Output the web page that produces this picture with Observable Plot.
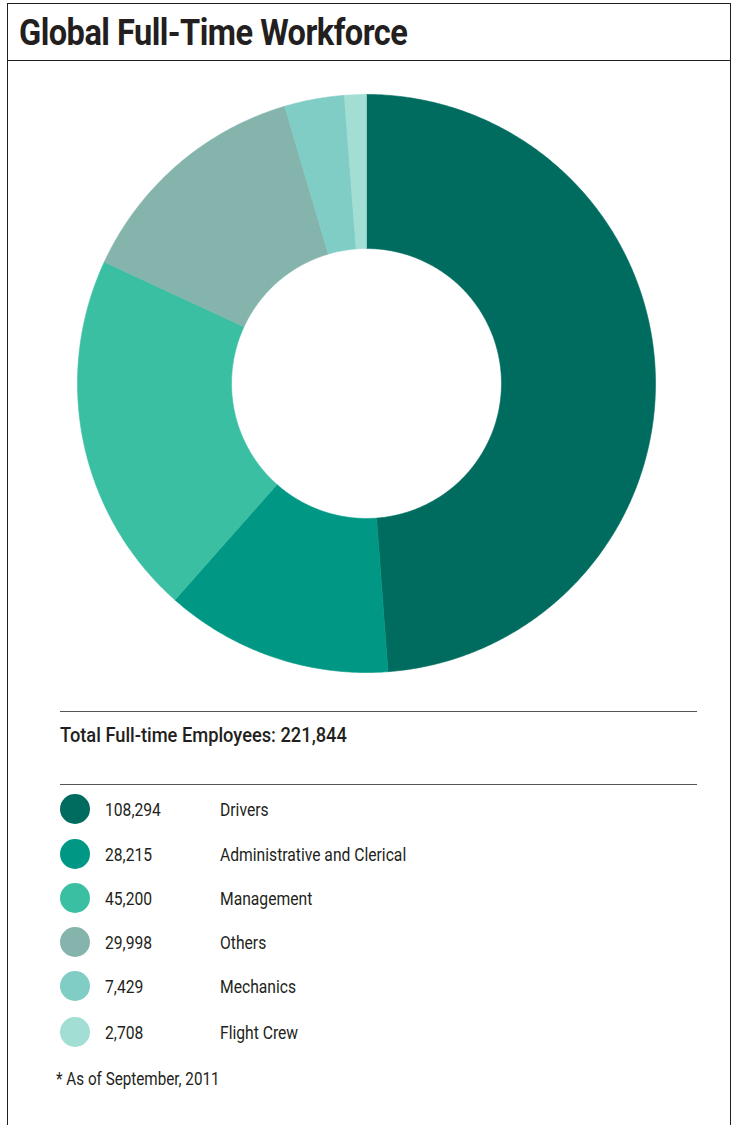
<!DOCTYPE html>
<html>
<head>
<meta charset="utf-8">
<script src="https://cdn.jsdelivr.net/npm/d3@7"></script>
<script src="https://cdn.jsdelivr.net/npm/@observablehq/plot@0.6"></script>
<style>
  html, body { margin: 0; padding: 0; background: #fff; }
  body { width: 733px; height: 1125px; position: relative; overflow: hidden;
         font-family: "Roboto", "Liberation Sans", sans-serif; color: #231f20; }
  .frame { position: absolute; left: 7px; top: 3px; width: 724px; height: 1130px;
           border: 1.5px solid #231f20; border-bottom: none; box-sizing: border-box; }
  .titlebar { position: absolute; left: 7px; top: 3px; width: 724px; height: 58px;
              border-bottom: 1.5px solid #231f20; box-sizing: border-box; }
  .title { position: absolute; left: 12px; top: 8px; font-size: 37px; font-weight: bold;
           letter-spacing: -0.6px; white-space: nowrap; transform: scaleX(0.88); transform-origin: left center; }
  #chart { position: absolute; left: 0; top: 61px; }
  .rule { position: absolute; left: 60px; width: 637px; height: 0; border-top: 1.3px solid #555; }
  .cond { transform: scaleX(0.87); transform-origin: left center; white-space: nowrap; }
  .total { position: absolute; left: 60px; top: 723px; font-size: 21px; font-weight: 500; }
  .row { position: absolute; left: 0; height: 30px; width: 733px; }
  .dot { position: absolute; left: 60px; top: 0; width: 30px; height: 30px; border-radius: 50%; }
  .num { position: absolute; left: 105px; top: 5px; font-size: 18px; }
  .lab { position: absolute; left: 220px; top: 5px; font-size: 18px; }
  .note { position: absolute; left: 56px; top: 1069px; font-size: 17.5px; }
</style>
</head>
<body>
<div class="frame"></div>
<div class="titlebar"><div class="title">Global Full-Time Workforce</div></div>
<div id="chart"></div>
<div class="rule" style="top:711px"></div>
<div class="total cond">Total Full-time Employees: 221,844</div>
<div class="rule" style="top:784px"></div>
<div id="legend"></div>
<div class="note cond">* As of September, 2011</div>
<script>
const categories = ["Drivers", "Administrative and Clerical", "Management", "Others", "Mechanics", "Flight Crew"];
const values = [108294, 28215, 45200, 29998, 7429, 2708];
const valueLabels = ["108,294", "28,215", "45,200", "29,998", "7,429", "2,708"];
const colors = ["#006b5f", "#009884", "#3bbfa3", "#84b4ac", "#80cdc5", "#a2ded3"];

const innerRatio = 0.467;
const pie = d3.pie().sort(null).value(d => d.value);
const arcs = pie(categories.map((c, i) => ({category: c, value: values[i]})));

// Build polygon outlines in unit coordinates from the pie angles
const pts = [];
for (const a of arcs) {
  const n = Math.max(8, Math.ceil((a.endAngle - a.startAngle) * 120));
  const ring = [];
  for (let k = 0; k <= n; k++) {
    const t = a.startAngle + (a.endAngle - a.startAngle) * k / n;
    ring.push([Math.sin(t), Math.cos(t)]);
  }
  for (let k = n; k >= 0; k--) {
    const t = a.startAngle + (a.endAngle - a.startAngle) * k / n;
    ring.push([innerRatio * Math.sin(t), innerRatio * Math.cos(t)]);
  }
  ring.push(ring[0]);
  for (const [x, y] of ring) pts.push({category: a.data.category, x, y});
}

const cx = 366, cy = 383 - 61, R = 289;
const chart = Plot.plot({
  width: 733,
  height: 640,
  margin: 0,
  x: {domain: [-1, 1], range: [cx - R, cx + R], axis: null},
  y: {domain: [-1, 1], range: [cy + R, cy - R], axis: null},
  color: {domain: categories, range: colors},
  marks: [
    Plot.line(pts, {x: "x", y: "y", z: "category", fill: "category", stroke: "category",
                    strokeWidth: 0.6, curve: "linear"})
  ]
});
document.getElementById("chart").appendChild(chart);

// Legend rows
const rowTops = [794, 839, 883, 927, 971, 1017];
const legend = document.getElementById("legend");
categories.forEach((c, i) => {
  const row = document.createElement("div");
  row.className = "row";
  row.style.top = rowTops[i] + "px";
  row.innerHTML = `<div class="dot" style="background:${colors[i]}"></div>` +
                  `<div class="num cond">${valueLabels[i]}</div><div class="lab cond">${c}</div>`;
  legend.appendChild(row);
});
</script>
</body>
</html>
